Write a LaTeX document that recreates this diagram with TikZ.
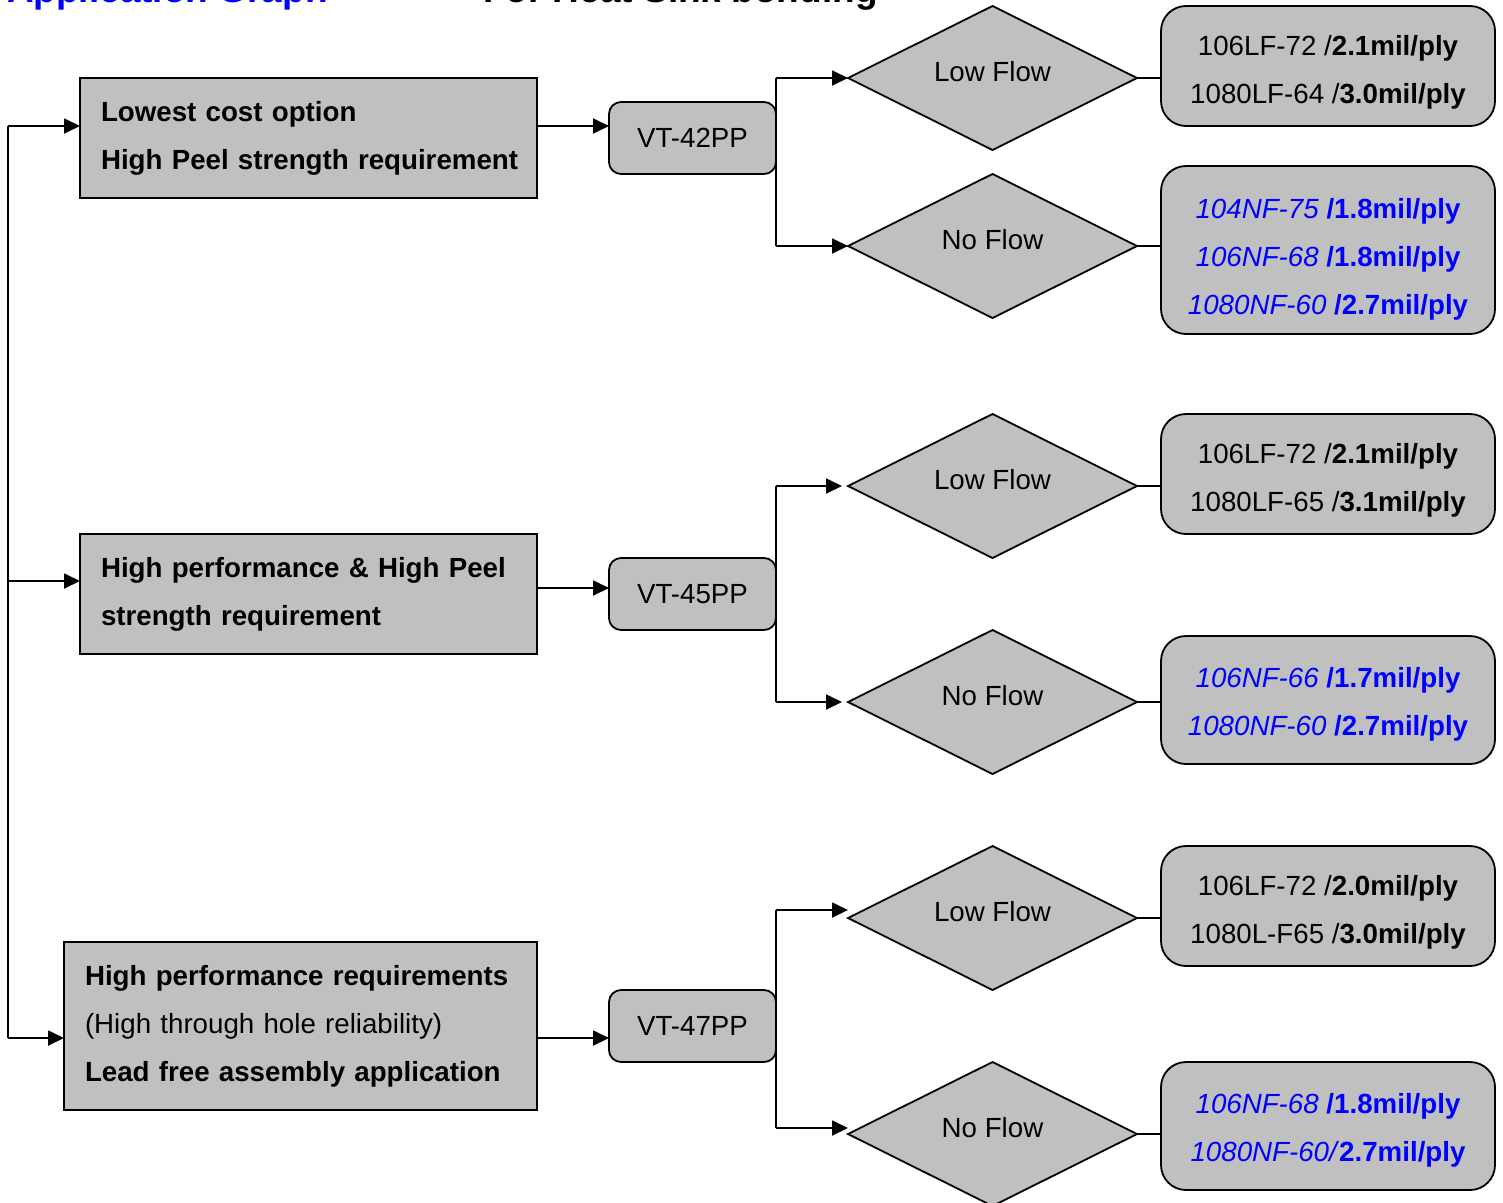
\documentclass[tikz,border=0pt]{standalone}
\usepackage{fontspec}
\setmainfont{Liberation Sans}
\usetikzlibrary{shapes.geometric,arrows.meta,calc}
\definecolor{boxgray}{RGB}{192,192,192}
\definecolor{partblue}{RGB}{0,0,255}
\newcommand\upstrut[1]{\rule{0pt}{#1}}
\begin{document}
\begin{tikzpicture}[x=1pt,y=-1pt,line width=1.8pt,
  every node/.style={outer sep=0pt},
  txt/.style={font=\fontsize{27.7}{48}\selectfont},
  arr/.style={-{Triangle[length=16pt,width=15pt]}},
  reqbox/.style={txt,draw,fill=boxgray,rectangle,anchor=north west,inner xsep=21pt,inner ysep=0pt,align=left},
  resinbox/.style={txt,draw,fill=boxgray,rounded corners=12pt,minimum width=167pt,minimum height=72pt,inner sep=0pt},
  flowdia/.style={txt,draw,fill=boxgray,diamond,aspect=2,minimum width=289pt,minimum height=144pt,inner sep=0pt,text depth=13pt},
  gradebox/.style={txt,draw,fill=boxgray,rounded corners=25pt,minimum width=334pt,inner sep=0pt,align=center},
  titletxt/.style={anchor=base west,inner sep=0pt,font=\bfseries\fontsize{37}{40}\selectfont}
]
\useasboundingbox (0,0) rectangle (1503,1202);
\clip (0,0) rectangle (1503,1202);

% titles (cut off at top, as in the reference)
\node[titletxt,text=partblue] (ttl1) at (7,2) {Application Graph};
\node[titletxt] (ttl2) at (483,2) {For Heat Sink bonding};

% requirement boxes
\node[reqbox,text width=415pt,minimum height=120pt] (b1) at (80,78)
  {\mbox{\bfseries Lowest cost option}\\\mbox{\bfseries High Peel strength requirement}};
\node[reqbox,text width=415pt,minimum height=120pt] (b2) at (80,534)
  {\mbox{\bfseries High performance \& High Peel}\\\mbox{\bfseries strength requirement}};
\node[reqbox,text width=431pt,minimum height=168pt] (b3) at (64,942)
  {\mbox{\bfseries High performance requirements}\\\mbox{(High through hole reliability)}\\\mbox{\bfseries Lead free assembly application}};

% resin boxes
\node[resinbox] (vt1) at (692.5,138) {VT-42PP};
\node[resinbox] (vt2) at (692.5,594) {VT-45PP};
\node[resinbox] (vt3) at (692.5,1026) {VT-47PP};

% diamonds
\node[flowdia] (d1) at (992.5,78) {Low Flow};
\node[flowdia] (d2) at (992.5,246) {No Flow};
\node[flowdia] (d3) at (992.5,486) {Low Flow};
\node[flowdia] (d4) at (992.5,702) {No Flow};
\node[flowdia] (d5) at (992.5,918) {Low Flow};
\node[flowdia] (d6) at (992.5,1134) {No Flow};

% grade boxes
\node[gradebox,minimum height=120pt] (r1) at (1328,66)
  {\upstrut{32pt}106LF-72 /\textbf{2.1mil/ply}\\1080LF-64 /\textbf{3.0mil/ply}};
\node[gradebox,minimum height=168pt,text=partblue] (r2) at (1328,250)
  {\upstrut{38pt}\textit{104NF-75} \textbf{/1.8mil/ply}\\\textit{106NF-68} \textbf{/1.8mil/ply}\\\textit{1080NF-60} \textbf{/2.7mil/ply}};
\node[gradebox,minimum height=120pt] (r3) at (1328,474)
  {\upstrut{32pt}106LF-72 /\textbf{2.1mil/ply}\\1080LF-65 /\textbf{3.1mil/ply}};
\node[gradebox,minimum height=128pt,text=partblue] (r4) at (1328,700)
  {\upstrut{28pt}\textit{106NF-66} \textbf{/1.7mil/ply}\\\textit{1080NF-60} \textbf{/2.7mil/ply}};
\node[gradebox,minimum height=120pt] (r5) at (1328,906)
  {\upstrut{32pt}106LF-72 /\textbf{2.0mil/ply}\\1080L-F65 /\textbf{3.0mil/ply}};
\node[gradebox,minimum height=128pt,text=partblue] (r6) at (1328,1126)
  {\upstrut{28pt}\textit{106NF-68} \textbf{/1.8mil/ply}\\\textit{1080NF-60/}\textbf{2.7mil/ply}};

% trunk on the left
\coordinate (t1) at (8,126);
\coordinate (t2) at (8,581);
\coordinate (t3) at (8,1038);
\draw (t1) -- (t3);
\draw[arr] (t1) -- (b1.west |- t1);
\draw[arr] (t2) -- (b2.west |- t2);
\draw[arr] (t3) -- (b3.west |- t3);

% requirement -> resin
\coordinate (h1) at (0,126);
\coordinate (h2) at (0,588);
\coordinate (h3) at (0,1038);
\draw[arr] (b1.east |- h1) -- (vt1.west |- h1);
\draw[arr] (b2.east |- h2) -- (vt2.west |- h2);
\draw[arr] (b3.east |- h3) -- (vt3.west |- h3);

% resin -> diamonds
\draw (vt1.east |- d1.west) -- (vt1.east |- d2.west);
\draw[arr] (vt1.east |- d1.west) -- (d1.west);
\draw[arr] (vt1.east |- d2.west) -- (d2.west);

\draw (vt2.east |- d3.west) -- (vt2.east |- d4.west);
\draw[arr] (vt2.east |- d3.west) -- ($(d3.west)+(-6,0)$);
\draw[arr] (vt2.east |- d4.west) -- ($(d4.west)+(-6,0)$);

\coordinate (k5) at ($(d5.west)+(0,-8)$);
\coordinate (k6) at ($(d6.west)+(0,-6)$);
\draw (vt3.east |- k5) -- (vt3.east |- k6);
\draw[arr] (vt3.east |- k5) -- (k5);
\draw[arr] (vt3.east |- k6) -- (k6);

% diamonds -> grade boxes
\draw (d1.east) -- (r1.west |- d1.east);
\draw (d2.east) -- (r2.west |- d2.east);
\draw (d3.east) -- (r3.west |- d3.east);
\draw (d4.east) -- (r4.west |- d4.east);
\draw (d5.east) -- (r5.west |- d5.east);
\draw (d6.east) -- (r6.west |- d6.east);
\end{tikzpicture}
\end{document}
